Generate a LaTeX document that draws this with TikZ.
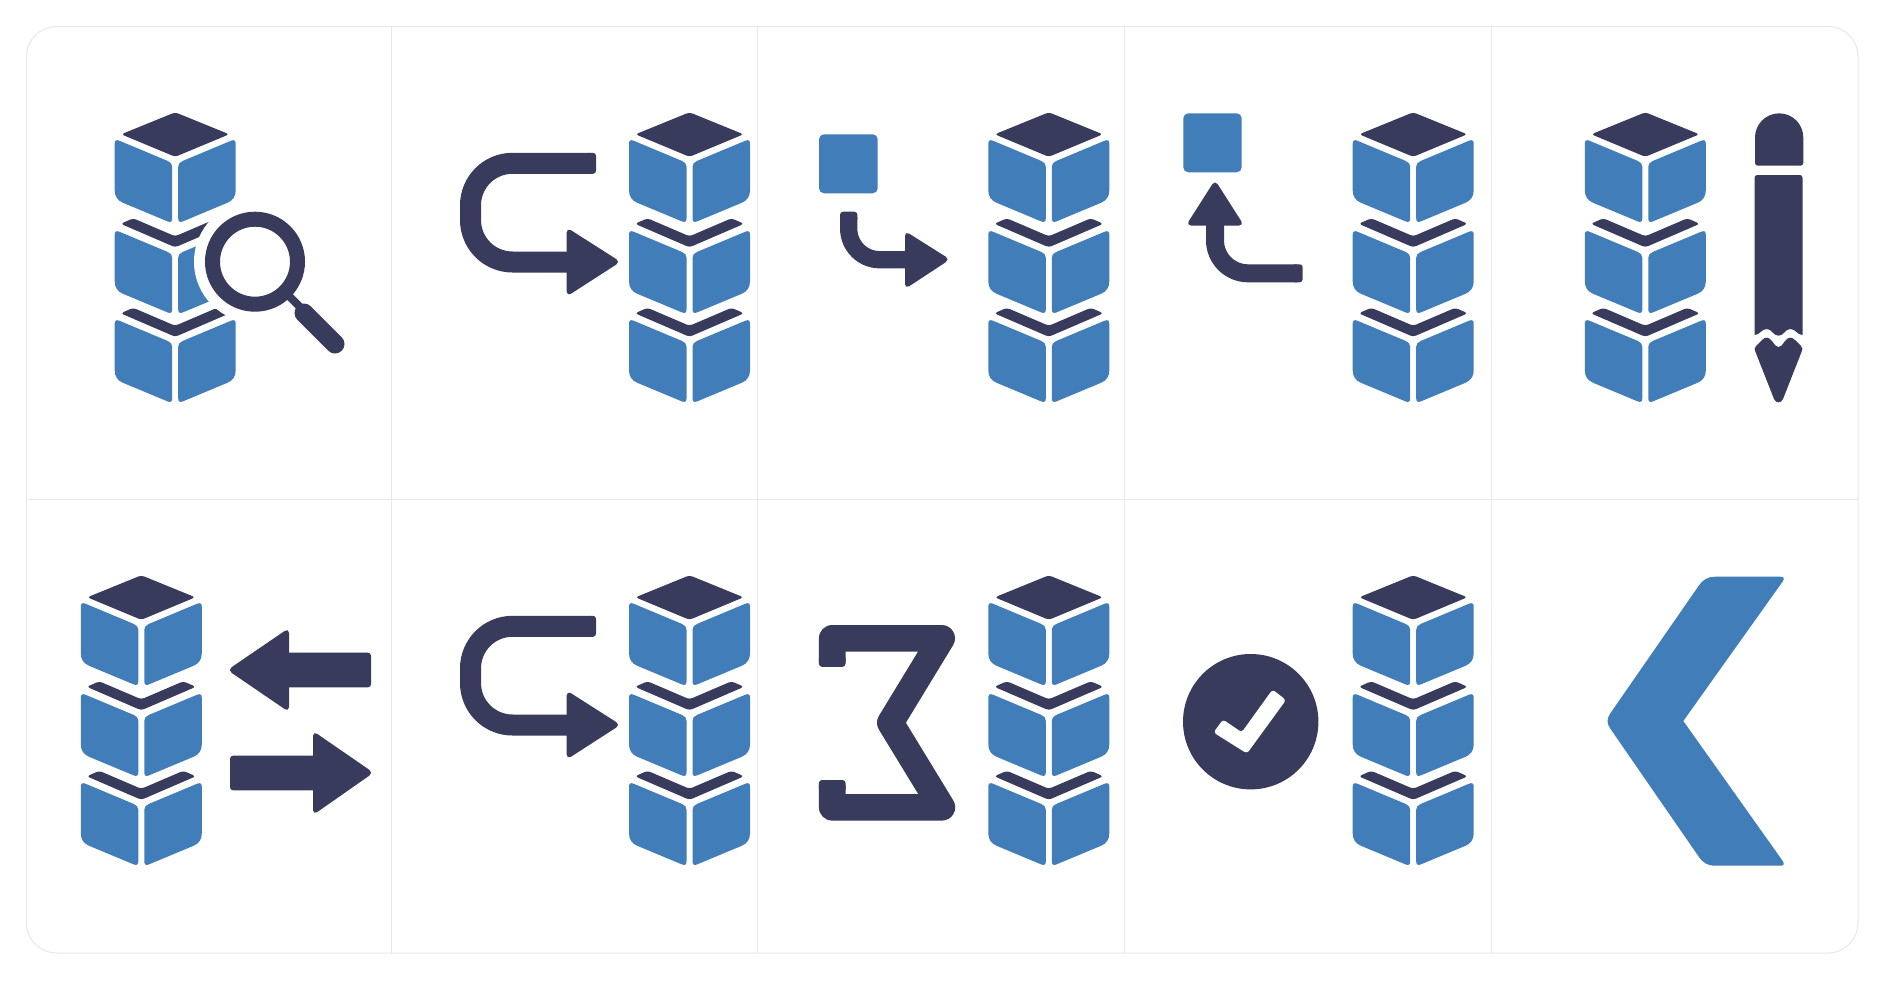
\documentclass[tikz,border=0pt]{standalone}
\definecolor{iconblue}{HTML}{417DB8}
\definecolor{iconnavy}{HTML}{393B5C}
\definecolor{gridgrey}{HTML}{E8E8E8}
\tikzset{
  navyfill/.style={fill=iconnavy,rounded corners=3pt},
  headfill/.style={fill=iconnavy,rounded corners=5pt},
  band/.style={draw=iconnavy,line cap=butt},
  gridline/.style={draw=gridgrey,line width=1pt}
}
\newcommand{\sidepanel}[3]{% #1 mirror sign, #2 outer top, #3 inner top
  \fill[iconblue] (#1*-60.5,#2+5) .. controls (#1*-60.5,#2+1.67) and (#1*-59,#2+.65) .. (#1*-55.9,#2+1.9)
    -- (#1*-7.6,#3-1.9) .. controls (#1*-4.5,#3-.65) and (#1*-3,#3+1.3) .. (#1*-3,#3+4)
    -- (#1*-3,#3+55.5) .. controls (#1*-3,#3+58.8) and (#1*-4.5,#3+59.85) .. (#1*-7.6,#3+58.6)
    -- (#1*-52.2,#2+64) .. controls (#1*-57.7,#2+61.7) and (#1*-60.5,#2+57.5) .. (#1*-60.5,#2+51.5) -- cycle;
}
\newcommand{\panelpair}[2]{\sidepanel{1}{#1}{#2}\sidepanel{-1}{#1}{#2}}
\newcommand{\chevron}[1]{%
  \fill[navyfill] (-54.5,#1+4.5) -- (-42,#1-1) -- (0,#1+17) -- (42,#1-1) -- (54.5,#1+4.5) -- (0,#1+28) -- cycle;
}
\newcommand{\stackicon}[2]{%
  \begin{scope}[shift={(#1,#2)}]
    \fill[navyfill] (0,-1) -- (54,21) -- (0,43.5) -- (-54,21) -- cycle;
    \panelpair{25.5}{49.5}
    \chevron{106}
    \panelpair{116.5}{140.5}
    \chevron{195.5}
    \panelpair{205.5}{229.5}
  \end{scope}
}
\newcommand{\uarrow}[1]{%
  \begin{scope}[shift={(0,#1)}]
    \draw[band,line width=21pt,rounded corners=42pt] (590,163.3) -- (470.5,163.3) -- (470.5,262) -- (575,262);
    \fill[navyfill] (586,152.8) rectangle (596,173.8);
    \fill[headfill] (566.7,227.5) -- (620.5,261.8) -- (566.7,296.5) -- cycle;
  \end{scope}
}
\begin{document}
\begin{tikzpicture}[x=1pt,y=-1pt]
\useasboundingbox (0,0) rectangle (1885,980);
\fill[white] (0,0) rectangle (1885,980);
% frame and grid
\draw[gridline,rounded corners=30pt] (26.5,26.5) rectangle (1858,953);
\draw[gridline] (26.5,499.5) -- (1858,499.5);
\draw[gridline] (391,26.5) -- (391,953);
\draw[gridline] (757.5,26.5) -- (757.5,953);
\draw[gridline] (1124,26.5) -- (1124,953);
\draw[gridline] (1491,26.5) -- (1491,953);
% row 1, icon 1: stack with magnifier
\stackicon{175.2}{113.3}
\fill[white] (255,261.7) circle (61);
\draw[draw=iconnavy,line width=15pt] (255,261.7) circle (42.5);
\draw[draw=iconnavy,line width=8pt] (287,294) -- (303,310);
\draw[draw=iconnavy,line width=19pt,line cap=round] (304,313) -- (335,344);
% row 1, icon 2
\uarrow{0}
\stackicon{689.5}{113.3}
% row 1, icon 3
\fill[fill=iconblue,rounded corners=5pt] (819,134.3) rectangle (877.7,193.3);
\draw[band,line width=17.3pt,rounded corners=31pt] (848.7,217) -- (848.7,259.7) -- (912,259.7);
\fill[navyfill] (840,211.7) rectangle (857.4,222);
\fill[headfill] (905,231) -- (950,259.4) -- (905,289) -- cycle;
\stackicon{1048.8}{113.3}
% row 1, icon 4
\fill[fill=iconblue,rounded corners=5pt] (1183.3,113.3) rectangle (1241.7,172.3);
\draw[band,line width=18pt,rounded corners=33pt] (1215,220) -- (1215,273.3) -- (1297,273.3);
\fill[navyfill] (1292,264.3) rectangle (1302.7,282.3);
\fill[headfill] (1215,180) -- (1244,225.5) -- (1186,225.5) -- cycle;
\stackicon{1413.2}{113.3}
% row 1, icon 5: pencil
\stackicon{1645.3}{113.3}
\fill[iconnavy] (1755,137.5) arc[start angle=180,end angle=360,radius=24.15] -- (1803.3,162.7) .. controls (1803.3,164.7) and (1802.3,165.7) .. (1800.3,165.7) -- (1758,165.7) .. controls (1756,165.7) and (1755,164.7) .. (1755,162.7) -- cycle;
\fill[iconnavy] (1754.5,335) .. controls (1760,335) and (1761,329) .. (1766.8,329) .. controls (1772,329) and (1773,335.7) .. (1778.5,335.7) .. controls (1784,335.7) and (1785,329) .. (1790.2,329) .. controls (1796,329) and (1797,335) .. (1802.5,335) -- (1802.5,178) .. controls (1802.5,176) and (1801.5,175) .. (1799.5,175) -- (1757.5,175) .. controls (1755.5,175) and (1754.5,176) .. (1754.5,178) -- cycle;
\fill[iconnavy] (1755.5,352) .. controls (1754,350) and (1754.5,348) .. (1756,346) -- (1762,340) .. controls (1766,336) and (1769,337.5) .. (1772,341) .. controls (1775,345) and (1776,347) .. (1778.5,347) .. controls (1781,347) and (1782,345) .. (1785,341) .. controls (1788,337.5) and (1791,336) .. (1795,340) -- (1801,346) .. controls (1802.5,348) and (1803,350) .. (1801.5,352) -- (1783,399) .. controls (1781,403.5) and (1776,403.5) .. (1774,399) -- cycle;
% row 2, icon 1: exchange arrows
\stackicon{141.3}{576.3}
\fill[navyfill] (280,652.7) rectangle (371,687.3);
\fill[headfill] (227.5,670) -- (289,628) -- (289,712) -- cycle;
\fill[navyfill] (230,755.7) rectangle (320,790.3);
\fill[headfill] (373.5,772.7) -- (313,731) -- (313,815) -- cycle;
% row 2, icon 2
\uarrow{463}
\stackicon{689.5}{576.3}
% row 2, icon 3: the figure 3
\draw[draw=iconnavy,line width=26.6pt,line join=round] (832.2,662) -- (832.2,638.3) -- (941.7,638.3) -- (890.3,722.7) -- (941.9,807.3) -- (832.2,807.3) -- (832.2,785);
\fill[navyfill] (818.9,655) rectangle (845.5,666.8);
\fill[navyfill] (818.9,780) rectangle (845.5,792);
\stackicon{1048.8}{576.3}
% row 2, icon 4: check badge
\fill[iconnavy] (1250.7,721.7) circle (67.7);
\fill[fill=white,rounded corners=3pt] (1223,719.5) -- (1241.7,732.3) -- (1272.5,689.5) -- (1286,700) -- (1247,753.5) -- (1213.5,732.5) -- cycle;
\stackicon{1413.2}{576.3}
% row 2, icon 5: chevron
\fill[iconblue] (1716,576.7) -- (1780,576.7) .. controls (1784,576.7) and (1785,578.1) .. (1782.5,581.7) -- (1683.3,721) -- (1782.5,860.7) .. controls (1785,864.3) and (1784,865.7) .. (1780,865.7) -- (1716,865.7) .. controls (1707,865.7) and (1703,863) .. (1698,855.6) -- (1610,728.2) .. controls (1606.7,723.3) and (1606.7,718.7) .. (1610,713.8) -- (1698,586.8) .. controls (1703,579.5) and (1707,576.7) .. (1716,576.7) -- cycle;
\end{tikzpicture}
\end{document}
